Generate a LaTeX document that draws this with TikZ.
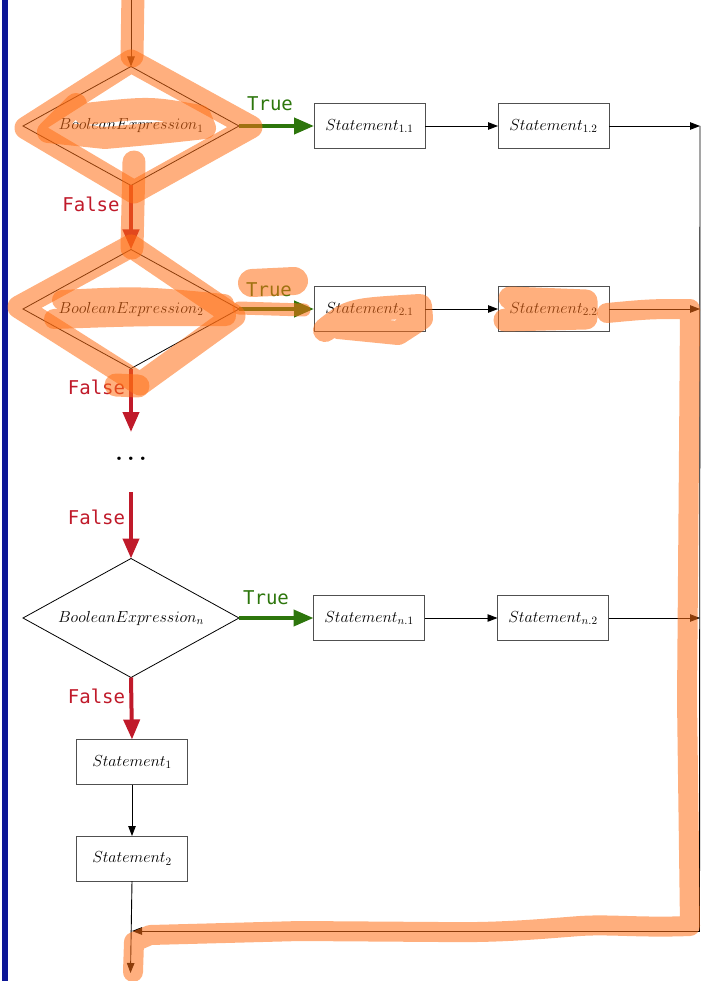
\RequirePackage{fix-cm}
\documentclass[tikz,border=0pt]{standalone}
\usepackage{fontspec}
\newfontfamily\monolbl{DejaVu Sans Mono}
\usetikzlibrary{shapes.geometric,arrows.meta}

\definecolor{truegreen}{RGB}{45,118,12}
\definecolor{falsered}{RGB}{192,26,42}
\definecolor{boxgray}{RGB}{80,80,80}
\definecolor{hlorange}{RGB}{255,110,20}
\definecolor{barblue}{RGB}{12,22,150}

\tikzset{
  decision/.style={diamond, draw=black, line width=0.8pt, aspect=1.8,
    minimum width=216pt, minimum height=119pt, inner sep=0pt, outer sep=0pt,
    font=\fontsize{16}{19}\selectfont},
  stmt/.style={rectangle, draw=boxgray, line width=1pt, fill=white,
    minimum width=111pt, minimum height=45pt, inner sep=0pt, outer sep=0pt,
    font=\fontsize{16}{19}\selectfont},
  flow/.style={-{Triangle[length=10pt,width=7.5pt]}, line width=0.9pt, draw=black},
  truearrow/.style={-{Triangle[length=20pt,width=16pt]}, line width=4pt, draw=truegreen},
  falsearrow/.style={-{Triangle[length=20pt,width=16pt]}, line width=4pt, draw=falsered},
  truelbl/.style={anchor=base, inner sep=0pt, text=truegreen,
    font=\monolbl\fontsize{19}{22}\selectfont},
  falselbl/.style={anchor=base, inner sep=0pt, text=falsered,
    font=\monolbl\fontsize{19}{22}\selectfont},
  marker/.style={draw=hlorange, draw opacity=0.55, line width=23pt,
    line cap=round, line join=round},
}

\begin{document}
\begin{tikzpicture}[x=1pt,y=-1pt]
\useasboundingbox (0,0) rectangle (701,981);

% margin bar
\fill[barblue] (1.5,0) rectangle (7.5,981);

% decisions
\node[decision] (d1) at (131,126) {$BooleanExpression_1$};
\node[decision] (d2) at (131,309) {$BooleanExpression_2$};
\node[decision] (dn) at (131,618) {$BooleanExpression_n$};

% statement rows
\node[stmt] (s11) at (369.5,126) {$Statement_{1.1}$};
\node[stmt] (s12) at (553.5,126) {$Statement_{1.2}$};
\node[stmt] (s21) at (369.5,309) {$Statement_{2.1}$};
\node[stmt] (s22) at (553.5,309) {$Statement_{2.2}$};
\node[stmt] (sn1) at (369,618) {$Statement_{n.1}$};
\node[stmt] (sn2) at (553,618) {$Statement_{n.2}$};

% else branch
\node[stmt] (st1) at (132,762) {$Statement_1$};
\node[stmt] (st2) at (132,858.5) {$Statement_2$};

% elided decisions
\node[anchor=base, inner sep=0pt, font=\fontsize{24}{28}\selectfont\bfseries] (dots) at (131,460)
  {.\hspace{4.3pt}.\hspace{4.3pt}.};

% free ends
\coordinate (in) at (131,0);
\coordinate (gap1) at (131,432);
\coordinate (gap2) at (131,492);
\coordinate (e1) at (700,126);
\coordinate (e2) at (700,309);
\coordinate (en) at (700,618);
\coordinate (corner) at (699.5,931);
\coordinate (join) at (132,931);
\coordinate (out) at (130.5,973);

% connectors
\draw[flow] (in) -- (d1.north);
\draw[truearrow] (d1.east) -- (s11.west);
\draw[flow] (s11.east) -- (s12.west);
\draw[flow] (s12.east) -- (e1);
\draw[falsearrow] (d1.south) -- (d2.north);

\draw[truearrow] (d2.east) -- (s21.west);
\draw[flow] (s21.east) -- (s22.west);
\draw[flow] (s22.east) -- (e2);
\draw[falsearrow] (d2.south) -- (gap1);

\draw[falsearrow] (gap2) -- (dn.north);
\draw[truearrow] (dn.east) -- (sn1.west);
\draw[flow] (sn1.east) -- (sn2.west);
\draw[flow] (sn2.east) -- (en);
\draw[falsearrow] (dn.south) -- (st1.north);

\draw[flow] (st1.south) -- (st2.north);
\draw[line width=0.9pt] (e1) -- (corner);
\draw[flow] (corner) -- (join);
\draw[flow] (st2.south) -- (out);

% branch labels
\node[truelbl] (t1) at (270,111) {True};
\node[truelbl] (t2) at (269,296) {True};
\node[truelbl] (tn) at (266,604) {True};
\node[falselbl] (f1) at (91,212) {False};
\node[falselbl] (f2) at (96.5,394) {False};
\node[falselbl] (f3) at (96.5,524) {False};
\node[falselbl] (f4) at (96.5,703) {False};

% highlighter strokes
\draw[marker] (133,-8) -- (132,56);
\draw[marker] (131,61) -- (251,127) -- (134,192) -- (26,128) -- cycle;
\draw[marker, line width=22pt] (76,104) -- (48,132) -- (105,138)
  .. controls (160,133) .. (205,128) -- (200,116) .. controls (150,107) .. (85,114);
\draw[marker] (134,162) -- (132,248);

\draw[marker] (131,246) -- (234,316) -- (140,384) -- (19,307) -- cycle;
\draw[marker] (116,385) -- (138,386);
\draw[marker, line width=20pt] (62,300) .. controls (140,296) .. (224,304) -- (226,316)
  .. controls (140,316) .. (54,319);
\draw[marker, line width=28pt] (252,283) -- (294,281);
\draw[marker, line width=13pt] (239,308) -- (304,310);
\draw[marker, line width=24pt] (325,330) .. controls (350,310) .. (420,306)
  -- (421,318) -- (398,333) -- (338,327);
\draw[marker] (510,298) -- (586,301) -- (586,318) -- (505,320);
\draw[marker, line width=20pt] (607,313) .. controls (650,309) .. (690,309)
  -- (689,450) -- (687,700) -- (690,926)
  .. controls (640,928) and (610,924) .. (580,926)
  .. controls (540,929) and (500,933) .. (440,932)
  -- (300,931) -- (150,935) -- (134,942) -- (133,972);
\end{tikzpicture}
\end{document}
